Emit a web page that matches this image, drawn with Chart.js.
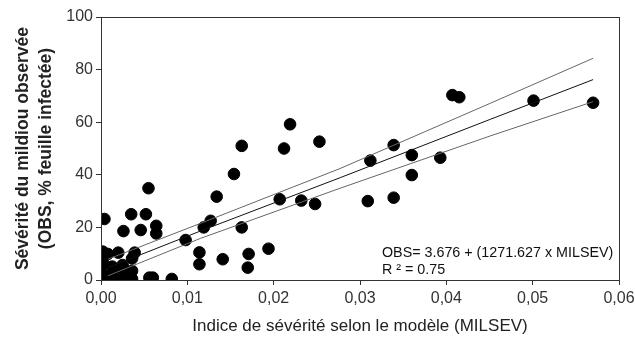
<!DOCTYPE html>
<html>
<head>
<meta charset="utf-8">
<script src="https://cdn.jsdelivr.net/npm/chart.js@4.4.0/dist/chart.umd.min.js"></script>
<style>
  html, body { margin: 0; padding: 0; background: #fff; }
  #wrap { width: 635px; height: 341px; }
</style>
</head>
<body>
<div id="wrap"><canvas id="chart"></canvas></div>
<script>
// Observations (MILSEV, OBS)
const milsev = [0.0004, 0.0035, 0.0052, 0.0055, 0.0026, 0.0046, 0.0064, 0.0064,
  0.0002, 0.0002, 0.0008, 0.0020, 0.0039, 0.0036, 0.0003, 0.0013, 0.0025, 0.0000,
  0.0001, 0.0011, 0.0020, 0.0028, 0.0036, 0.0030, 0.0056, 0.0060, 0.0082, 0.0017,
  0.0036, 0.0005,
  0.0098, 0.0114, 0.0114, 0.0119, 0.0127, 0.0134, 0.0141, 0.0154, 0.0163, 0.0163,
  0.0171, 0.0170, 0.0194, 0.0207, 0.0212, 0.0219, 0.0232, 0.0248, 0.0253, 0.0309,
  0.0312, 0.0339, 0.0339, 0.0360, 0.0360, 0.0393, 0.0407, 0.0415, 0.0501, 0.0570];
const obs = [23.2, 25.0, 25.0, 34.9, 18.6, 19.0, 20.6, 17.7,
  10.8, 9.0, 9.9, 10.4, 10.4, 8.2, 6.2, 5.1, 5.7, 3.2,
  0.7, 1.9, 1.3, 3.2, 0.4, 0.4, 0.9, 0.9, 0.4, 3.3,
  3.5, 1.5,
  15.2, 10.5, 6.0, 20.0, 22.5, 31.7, 7.9, 40.3, 51.0, 20.0,
  9.9, 4.7, 11.9, 30.7, 50.0, 59.2, 30.2, 28.9, 52.6, 30.0,
  45.4, 51.3, 31.3, 47.5, 39.9, 46.5, 70.3, 69.5, 68.2, 67.4];

// regression line and confidence band
const lineX = [0.0008, 0.0115, 0.0277, 0.0451, 0.0570];
const fitY = [4.7, 18.6, 38.9, 61.1, 76.2];
const upperY = [7.9, 21.5, 42.4, 67.2, 84.3];
const lowerY = [1.6, 15.8, 34.9, 54.8, 67.8];

const xTicks = [0, 0.01, 0.02, 0.03, 0.04, 0.05, 0.06];
const yTicks = [0, 20, 40, 60, 80, 100];

const eqLines = ["OBS= 3.676 + (1271.627 x MILSEV)", "R \u00B2 = 0.75"];

const toPts = (xs, ys) => xs.map((x, i) => ({ x: x, y: ys[i] }));

const FONT = "'Liberation Sans', Arial, sans-serif";

// frame round the plot + equation text
const framePlugin = {
  id: "frame",
  afterDraw(chart) {
    const { ctx, chartArea: a } = chart;
    ctx.save();
    ctx.strokeStyle = "#333";
    ctx.lineWidth = 1;
    ctx.strokeRect(a.left + 0.5, a.top + 0.5, a.right - a.left, a.bottom - a.top);
    ctx.fillStyle = "#111";
    ctx.font = "14.3px " + FONT;
    ctx.textAlign = "left";
    ctx.textBaseline = "alphabetic";
    ctx.fillText(eqLines[0], 382, 257);
    ctx.fillText(eqLines[1], 382, 274);
    ctx.restore();
  }
};

const lineStyle = (data, color) => ({
  type: "line",
  data: data,
  showLine: true,
  borderColor: color,
  borderWidth: 1,
  pointRadius: 0,
  fill: false,
  tension: 0,
});

new Chart(document.getElementById("chart"), {
  type: "scatter",
  data: {
    datasets: [
      lineStyle(toPts(lineX, upperY), "#666"),
      lineStyle(toPts(lineX, lowerY), "#666"),
      lineStyle(toPts(lineX, fitY), "#111"),
      {
        data: toPts(milsev, obs),
        backgroundColor: "#000",
        borderColor: "#000",
        pointRadius: 5.8,
        pointHoverRadius: 5.8,
      },
    ],
  },
  options: {
    responsive: true,
    maintainAspectRatio: false,
    animation: false,
    layout: { padding: { top: 17, right: 0, left: 12, bottom: 0 } },
    plugins: {
      legend: { display: false },
      tooltip: { enabled: false },
    },
    scales: {
      x: {
        type: "linear",
        min: 0,
        max: 0.06,
        afterBuildTicks: (s) => { s.ticks = xTicks.map(v => ({ value: v })); },
        afterFit: (s) => { s.height = 61; s.paddingRight = 16; },
        ticks: {
          color: "#333",
          font: { family: FONT, size: 16 },
          padding: 4,
          maxRotation: 0,
          callback: (v) => v.toFixed(2).replace(".", ","),
        },
        grid: { drawOnChartArea: false, tickLength: 5, color: "#333" },
        border: { color: "#333" },
        title: {
          display: true,
          text: "Indice de sévérité selon le modèle (MILSEV)",
          color: "#222",
          font: { family: FONT, size: 17 },
          padding: { top: 6 },
        },
      },
      y: {
        min: 0,
        max: 100,
        afterBuildTicks: (s) => { s.ticks = yTicks.map(v => ({ value: v })); },
        afterFit: (s) => { s.width = 89; },
        ticks: {
          color: "#333",
          font: { family: FONT, size: 16 },
          padding: 3,
        },
        grid: { drawOnChartArea: false, tickLength: 5, color: "#333" },
        border: { color: "#333" },
        title: {
          display: true,
          text: ["Sévérité du mildiou observée", "(OBS, % feuille infectée)"],
          color: "#222",
          font: { family: FONT, size: 17.5, weight: "bold", lineHeight: 1.3 },
          padding: { top: 0, bottom: 0 },
        },
      },
    },
  },
  plugins: [framePlugin],
});
</script>
</body>
</html>
